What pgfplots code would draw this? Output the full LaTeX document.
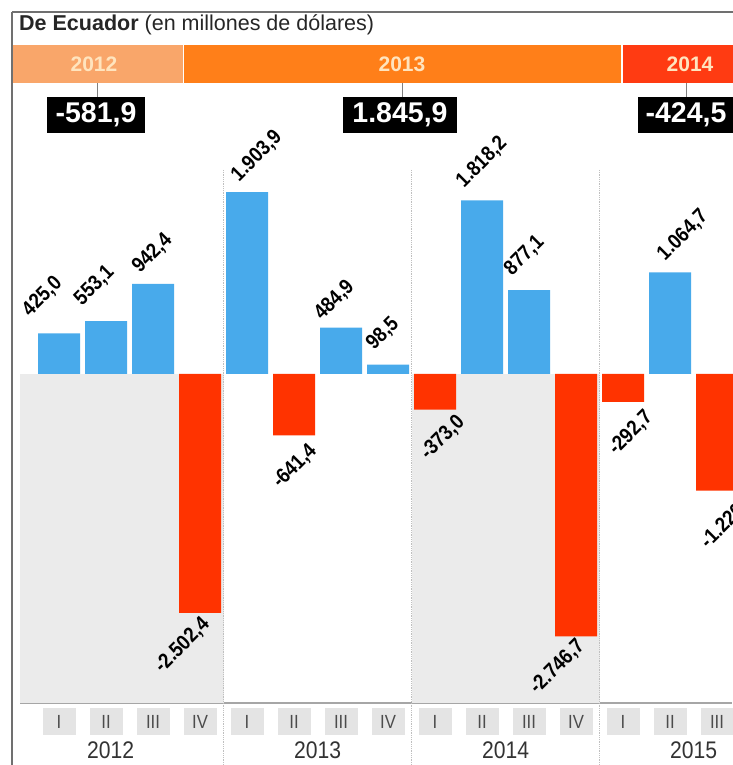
\documentclass[border=0pt]{standalone}
\usepackage{pgfplots}
\pgfplotsset{compat=1.18}
\usepackage{pgfplotstable}
\usepackage{fontspec}
\setmainfont{Liberation Sans}
\newfontfamily\condf{Liberation Sans}[FakeStretch=0.88]

\definecolor{barblue}{HTML}{48AAEB}
\definecolor{barred}{HTML}{FF3300}
\definecolor{band12}{HTML}{F9A66A}
\definecolor{band13}{HTML}{FF7F19}
\definecolor{band14}{HTML}{FF3B12}
\definecolor{bandtxt}{HTML}{FFE4BE}
\definecolor{bggray}{HTML}{EBEBEB}
\definecolor{tickgray}{HTML}{E4E4E4}
\definecolor{bordergray}{HTML}{707070}

\pgfplotstableread{
x y lab dx dy
0 425.0 425,0 -29 16
1 553.1 553,1 -24 15
2 942.4 942,4 -13 10
4 1903.9 1.903,9 -8 10
6 484.9 484,9 -19 7
7 98.5 98,5 -14 14
9 1818.2 1.818,2 -18 12
10 877.1 877,1 -17 14
13 1064.7 1.064,7 -5 11
}\pos

\pgfplotstableread{
x y lab dx dy
3 -2502.4 -2.502,4 0 -2
5 -641.4 -641,4 13 -6
8 -373.0 -373,0 20 -3
11 -2746.7 -2.746,7 -1 0
12 -292.7 -292,7 20 -6
14 -1220.0 -1.220,0 29 0
}\neg

\begin{document}
\begin{tikzpicture}
% frame lines
\draw[bordergray, line width=2pt] (12pt,-12pt) -- (740pt,-12pt);
\draw[bordergray, line width=2pt] (12pt,-12pt) -- (12pt,-770pt);
% title
\node[anchor=base west, inner sep=0pt, text=black!85] at (19pt,-31pt)
  {\fontsize{21.5}{21.5}\selectfont\textbf{De Ecuador} (en millones de dólares)};
% year band
\fill[band12] (13pt,-45pt) rectangle (183pt,-83pt);
\fill[band13] (184pt,-45pt) rectangle (621pt,-83pt);
\fill[band14] (623pt,-45pt) rectangle (760pt,-83pt);
\node[text=bandtxt, font=\bfseries\fontsize{21}{21}\selectfont] at (94pt,-64pt) {2012};
\node[text=bandtxt, font=\bfseries\fontsize{21}{21}\selectfont] at (402pt,-64pt) {2013};
\node[text=bandtxt, font=\bfseries\fontsize{21}{21}\selectfont] at (690pt,-64pt) {2014};
% connectors and totals
\draw[gray, line width=0.8pt] (97pt,-83pt) -- (97pt,-97pt);
\draw[gray, line width=0.8pt] (402pt,-83pt) -- (402pt,-97pt);
\draw[gray, line width=0.8pt] (686pt,-83pt) -- (686pt,-97pt);
\node[fill=black, text=white, font=\bfseries\fontsize{28.5}{28.5}\selectfont, minimum height=36pt, inner xsep=9pt] at (96pt,-115pt) {-581,9};
\node[fill=black, text=white, font=\bfseries\fontsize{28.5}{28.5}\selectfont, minimum height=36pt, inner xsep=9pt] at (400pt,-115pt) {1.845,9};
\node[fill=black, text=white, font=\bfseries\fontsize{28.5}{28.5}\selectfont, minimum height=36pt, inner xsep=8pt] at (686pt,-115pt) {-424,5};

\begin{axis}[
  at={(20pt,-703pt)}, anchor=south west,
  scale only axis, width=712pt, height=533pt,
  xmin=-0.83, xmax=14.319, ymin=-3445, ymax=2136,
  clip=false,
  axis x line*=bottom, axis y line=none,
  x axis line style={gray!70, line width=1.2pt},
  ytick=\empty,
  major tick length=0pt,
  xtick={0,...,14},
  xticklabels={I,II,III,IV,I,II,III,IV,I,II,III,IV,I,II,III},
  xticklabel shift=5pt,
  xticklabel style={fill=tickgray, minimum width=33pt, minimum height=27pt, inner sep=0pt,
     anchor=north, text=black!70, font=\condf\fontsize{19}{19}\selectfont},
  extra x ticks={1.1,5.5,9.5,13.5},
  extra x tick labels={2012,2013,2014,2015},
  extra x tick style={xticklabel style={fill=none, yshift=-29pt, text=black!80,
     font=\condf\fontsize{24}{24}\selectfont}},
]
\fill[bggray] (axis cs:-0.83,0) rectangle (axis cs:3.5,-3445);
\fill[bggray] (axis cs:7.5,0) rectangle (axis cs:11.5,-3445);
\draw[gray!50, densely dotted, line width=0.8pt] (axis cs:3.5,2136) -- (axis cs:3.5,-4400);
\draw[gray!50, densely dotted, line width=0.8pt] (axis cs:7.5,2136) -- (axis cs:7.5,-4400);
\draw[gray!50, densely dotted, line width=0.8pt] (axis cs:11.5,2136) -- (axis cs:11.5,-4400);

\addplot[ybar, bar width=42pt, bar shift=0pt, fill=barblue, draw=none,
  point meta=explicit symbolic,
  nodes near coords,
  visualization depends on={\thisrow{dx}\as\dx},
  visualization depends on={\thisrow{dy}\as\dy},
  every node near coord/.append style={font=\condf\bfseries\fontsize{21}{21}\selectfont,
     xshift=\dx pt, yshift=\dy pt, rotate=45, anchor=base west, inner sep=0pt, text=black}
] table[x=x, y=y, meta=lab] {\pos};

\addplot[ybar, bar width=42pt, bar shift=0pt, fill=barred, draw=none,
  point meta=explicit symbolic,
  nodes near coords,
  visualization depends on={\thisrow{dx}\as\dx},
  visualization depends on={\thisrow{dy}\as\dy},
  every node near coord/.append style={font=\condf\bfseries\fontsize{21}{21}\selectfont,
     xshift=\dx pt, yshift=\dy pt, rotate=45, anchor=north east, inner sep=0pt, text=black}
] table[x=x, y=y, meta=lab] {\neg};
\end{axis}
\pgfresetboundingbox
\path[use as bounding box] (0pt,0pt) rectangle (732pt,-765pt);
\end{tikzpicture}
\end{document}
